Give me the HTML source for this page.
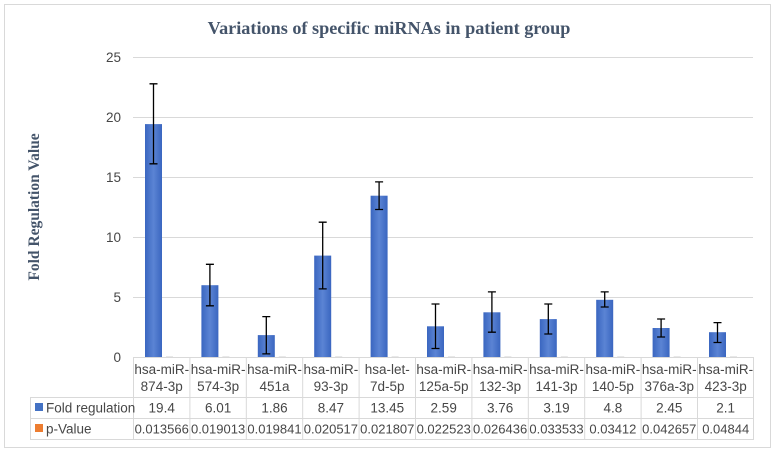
<!DOCTYPE html>
<html><head><meta charset="utf-8"><style>
body{margin:0;background:#fff}
svg{display:block}
text{font-family:"Liberation Sans",sans-serif;fill:#474747}
</style></head><body>
<svg width="776" height="452" viewBox="0 0 776 452">
<defs><linearGradient id="g" x1="0" x2="1"><stop offset="0" stop-color="#3a66c0"/><stop offset="0.5" stop-color="#5b84d4"/><stop offset="1" stop-color="#3a66c0"/></linearGradient></defs>
<rect x="4.5" y="4.5" width="766" height="443" fill="#fff" stroke="#d9d9d9"/>
<text x="389" y="34" text-anchor="middle" style="font-family:'Liberation Serif',serif;font-weight:bold;font-size:18.2px;fill:#44546a">Variations of specific miRNAs in patient group</text>
<text transform="translate(39,207) rotate(-90)" text-anchor="middle" style="font-family:'Liberation Serif',serif;font-weight:bold;font-size:15.5px;fill:#44546a">Fold Regulation Value</text>
<g stroke="#d9d9d9" stroke-width="1">
<line x1="133" x2="753" y1="57.5" y2="57.5"/><line x1="133" x2="753" y1="117.5" y2="117.5"/><line x1="133" x2="753" y1="177.5" y2="177.5"/><line x1="133" x2="753" y1="237.5" y2="237.5"/><line x1="133" x2="753" y1="297.5" y2="297.5"/>
</g>
<g font-size="13.5" text-anchor="end" style="fill:#595959">
<text x="121" y="62">25</text><text x="121" y="122">20</text><text x="121" y="182">15</text><text x="121" y="242">10</text><text x="121" y="302">5</text><text x="121" y="362">0</text>
</g>
<g fill="url(#g)">
<rect x="145" y="124.1" width="17" height="233.4"/>
<rect x="201.4" y="285.2" width="17" height="72.3"/>
<rect x="257.8" y="335.1" width="17" height="22.4"/>
<rect x="314.2" y="255.6" width="17" height="101.9"/>
<rect x="370.6" y="195.7" width="17" height="161.8"/>
<rect x="427" y="326.3" width="17" height="31.2"/>
<rect x="483.4" y="312.3" width="17" height="45.2"/>
<rect x="539.8" y="319.1" width="17" height="38.4"/>
<rect x="596.2" y="299.8" width="17" height="57.7"/>
<rect x="652.6" y="328" width="17" height="29.5"/>
<rect x="709" y="332.2" width="17" height="25.3"/>
</g>
<g fill="#d0d0d0">
<rect x="166" y="356.5" width="7" height="1"/><rect x="222.4" y="356.5" width="7" height="1"/><rect x="278.8" y="356.5" width="7" height="1"/><rect x="335.2" y="356.5" width="7" height="1"/><rect x="391.6" y="356.5" width="7" height="1"/><rect x="448" y="356.5" width="7" height="1"/><rect x="504.4" y="356.5" width="7" height="1"/><rect x="560.8" y="356.5" width="7" height="1"/><rect x="617.2" y="356.5" width="7" height="1"/><rect x="673.6" y="356.5" width="7" height="1"/><rect x="730" y="356.5" width="7" height="1"/>
</g>
<g stroke="#000" stroke-width="1.3" fill="none">
<path d="M153.5 163.8V83.8M149.5 163.8h8M149.5 83.8h8"/>
<path d="M209.9 305.8V264.3M205.9 305.8h8M205.9 264.3h8"/>
<path d="M266.3 353.9V316.6M262.3 353.9h8M262.3 316.6h8"/>
<path d="M322.7 288.9V222.2M318.7 288.9h8M318.7 222.2h8"/>
<path d="M379.1 209.5V181.9M375.1 209.5h8M375.1 181.9h8"/>
<path d="M435.5 348.5V304M431.5 348.5h8M431.5 304h8"/>
<path d="M491.9 332.2V291.9M487.9 332.2h8M487.9 291.9h8"/>
<path d="M548.3 334V304M544.3 334h8M544.3 304h8"/>
<path d="M604.7 307V291.9M600.7 307h8M600.7 291.9h8"/>
<path d="M661.1 337V319M657.1 337h8M657.1 319h8"/>
<path d="M717.5 342.5V322.6M713.5 342.5h8M713.5 322.6h8"/>
</g>
<g stroke="#d9d9d9" stroke-width="1" fill="none">
<line x1="133" x2="753" y1="357.5" y2="357.5"/>
<line x1="30" x2="753" y1="397.5" y2="397.5"/>
<line x1="30" x2="753" y1="418.5" y2="418.5"/>
<line x1="30" x2="753" y1="439.5" y2="439.5"/>
<line x1="30.5" x2="30.5" y1="397" y2="440"/>
<line x1="133.5" x2="133.5" y1="357" y2="440"/><line x1="189.9" x2="189.9" y1="357" y2="440"/><line x1="246.3" x2="246.3" y1="357" y2="440"/><line x1="302.7" x2="302.7" y1="357" y2="440"/><line x1="359.1" x2="359.1" y1="357" y2="440"/><line x1="415.5" x2="415.5" y1="357" y2="440"/><line x1="471.9" x2="471.9" y1="357" y2="440"/><line x1="528.3" x2="528.3" y1="357" y2="440"/><line x1="584.7" x2="584.7" y1="357" y2="440"/><line x1="641.1" x2="641.1" y1="357" y2="440"/><line x1="697.5" x2="697.5" y1="357" y2="440"/><line x1="753.5" x2="753.5" y1="357" y2="440"/>
</g>
<rect x="35" y="403" width="8" height="8" fill="#4472c4"/>
<rect x="35" y="424" width="8" height="8" fill="#ed7d31"/>
<text x="46" y="412.5" font-size="13.5">Fold regulation</text>
<text x="46" y="433.5" font-size="13.5">p-Value</text>
<g font-size="13.5" text-anchor="middle">
<text x="161.7" y="374">hsa-miR-</text><text x="161.7" y="391">874-3p</text>
<text x="218.1" y="374">hsa-miR-</text><text x="218.1" y="391">574-3p</text>
<text x="274.5" y="374">hsa-miR-</text><text x="274.5" y="391">451a</text>
<text x="330.9" y="374">hsa-miR-</text><text x="330.9" y="391">93-3p</text>
<text x="387.3" y="374">hsa-let-</text><text x="387.3" y="391">7d-5p</text>
<text x="443.7" y="374">hsa-miR-</text><text x="443.7" y="391">125a-5p</text>
<text x="500.1" y="374">hsa-miR-</text><text x="500.1" y="391">132-3p</text>
<text x="556.5" y="374">hsa-miR-</text><text x="556.5" y="391">141-3p</text>
<text x="612.9" y="374">hsa-miR-</text><text x="612.9" y="391">140-5p</text>
<text x="669.3" y="374">hsa-miR-</text><text x="669.3" y="391">376a-3p</text>
<text x="725.7" y="374">hsa-miR-</text><text x="725.7" y="391">423-3p</text>
<text x="161.7" y="412.5">19.4</text><text x="218.1" y="412.5">6.01</text><text x="274.5" y="412.5">1.86</text><text x="330.9" y="412.5">8.47</text><text x="387.3" y="412.5">13.45</text><text x="443.7" y="412.5">2.59</text><text x="500.1" y="412.5">3.76</text><text x="556.5" y="412.5">3.19</text><text x="612.9" y="412.5">4.8</text><text x="669.3" y="412.5">2.45</text><text x="725.7" y="412.5">2.1</text>
</g>
<g font-size="13" text-anchor="middle">
<text x="161.7" y="433.5">0.013566</text><text x="218.1" y="433.5">0.019013</text><text x="274.5" y="433.5">0.019841</text><text x="330.9" y="433.5">0.020517</text><text x="387.3" y="433.5">0.021807</text><text x="443.7" y="433.5">0.022523</text><text x="500.1" y="433.5">0.026436</text><text x="556.5" y="433.5">0.033533</text><text x="612.9" y="433.5">0.03412</text><text x="669.3" y="433.5">0.042657</text><text x="725.7" y="433.5">0.04844</text>
</g>
</svg>
</body></html>
